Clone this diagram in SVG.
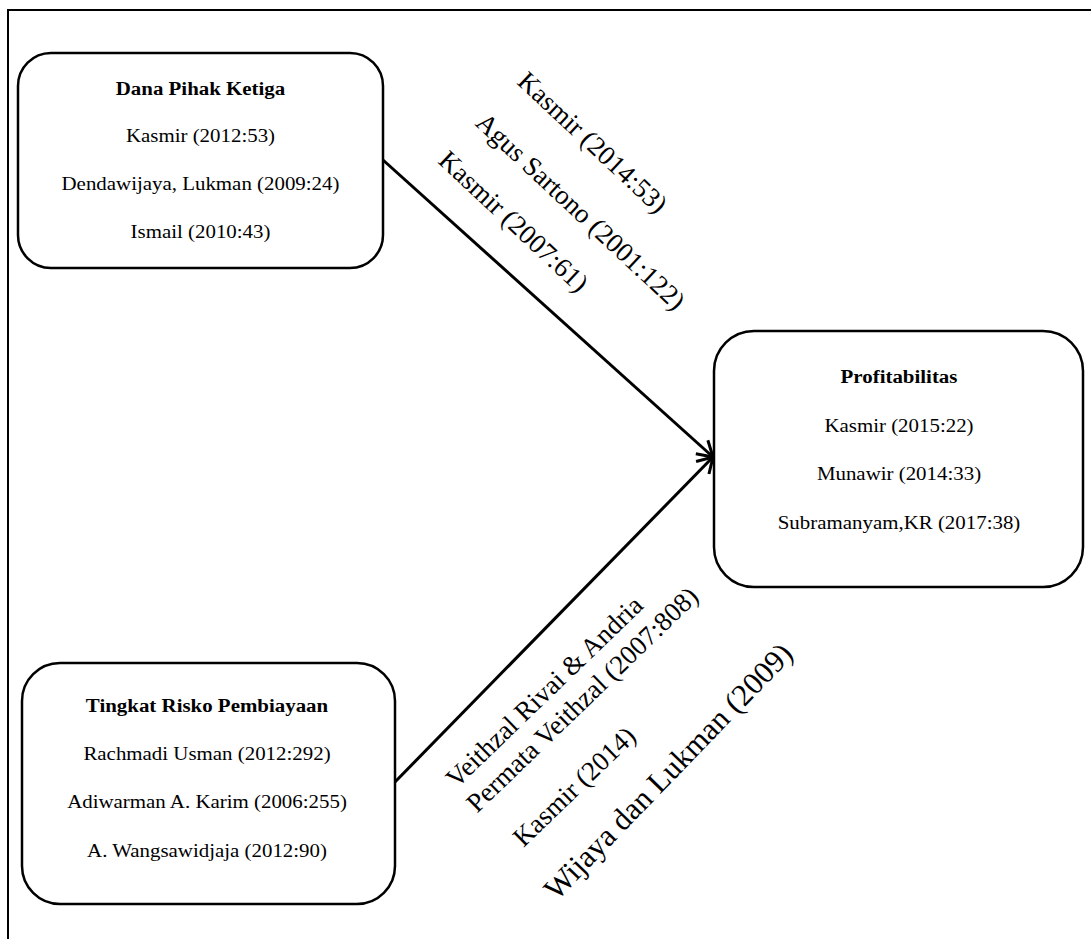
<svg xmlns="http://www.w3.org/2000/svg" width="1091" height="939" viewBox="0 0 1091 939">
<style>
.box{fill:#fff;stroke:#000;stroke-width:2.5}
.frame{fill:none;stroke:#000;stroke-width:2}
.conn{fill:none;stroke:#000;stroke-width:3}
text{font-family:"Liberation Serif","Times New Roman",serif;fill:#000}
.t{font-size:19px;text-anchor:middle}
.b{font-weight:bold}
.r{font-size:27px;text-anchor:middle}
.rw{font-size:31px;text-anchor:middle}
</style>
<defs>
<marker id="arr" markerWidth="22" markerHeight="22" refX="18" refY="11" orient="auto" markerUnits="userSpaceOnUse">
<polyline points="3,2 18,11 3,20" fill="none" stroke="#000" stroke-width="3" stroke-linejoin="miter"/>
</marker>
</defs>
<rect width="1091" height="939" fill="#fff"/>
<g id="frame">
<line class="frame" x1="8" y1="10" x2="1091" y2="10"/>
<line class="frame" x1="8" y1="9" x2="8" y2="939"/>
</g>
<g id="connectors">
<line class="conn" x1="383" y1="160" x2="713" y2="457" marker-end="url(#arr)"/>
<line class="conn" x1="394" y1="783" x2="713" y2="457" marker-end="url(#arr)"/>
</g>
<g id="node-dpk">
<rect class="box" x="18" y="53" width="365" height="215" rx="33" ry="33"/>
<g transform="translate(200.5,0) scale(1.1,1)">
<text class="t b" x="0" y="95">Dana Pihak Ketiga</text>
<text class="t" x="0" y="142">Kasmir (2012:53)</text>
<text class="t" x="0" y="190">Dendawijaya, Lukman (2009:24)</text>
<text class="t" x="0" y="238">Ismail (2010:43)</text>
</g>
</g>
<g id="node-profit">
<rect class="box" x="714" y="331" width="369" height="256" rx="40" ry="40"/>
<g transform="translate(899,0) scale(1.1,1)">
<text class="t b" x="0" y="383">Profitabilitas</text>
<text class="t" x="0" y="432">Kasmir (2015:22)</text>
<text class="t" x="0" y="480">Munawir (2014:33)</text>
<text class="t" x="0" y="529">Subramanyam,KR (2017:38)</text>
</g>
</g>
<g id="node-risk">
<rect class="box" x="22" y="663" width="373" height="241" rx="38" ry="38"/>
<g transform="translate(207,0) scale(1.1,1)">
<text class="t b" x="0" y="712">Tingkat Risko Pembiayaan</text>
<text class="t" x="0" y="760">Rachmadi Usman (2012:292)</text>
<text class="t" x="0" y="808">Adiwarman A. Karim (2006:255)</text>
<text class="t" x="0" y="857">A. Wangsawidjaja (2012:90)</text>
</g>
</g>
<g id="labels-top">
<text class="r" transform="translate(586.5,149) rotate(43)">Kasmir (2014:53)</text>
<text class="r" transform="translate(574.5,218) rotate(43)">Agus Sartono (2001:122)</text>
<text class="r" transform="translate(507.5,228) rotate(43)">Kasmir (2007:61)</text>
</g>
<g id="labels-bottom">
<text class="r" transform="translate(550.5,698) rotate(-44)">Veithzal Rivai &amp; Andria</text>
<text class="r" transform="translate(588.5,706) rotate(-44)">Permata Veithzal (2007:808)</text>
<text class="r" transform="translate(580.5,793) rotate(-44)">Kasmir (2014)</text>
<text class="rw" transform="translate(675.5,778.5) rotate(-46)">Wijaya dan Lukman (2009)</text>
</g>
</svg>
